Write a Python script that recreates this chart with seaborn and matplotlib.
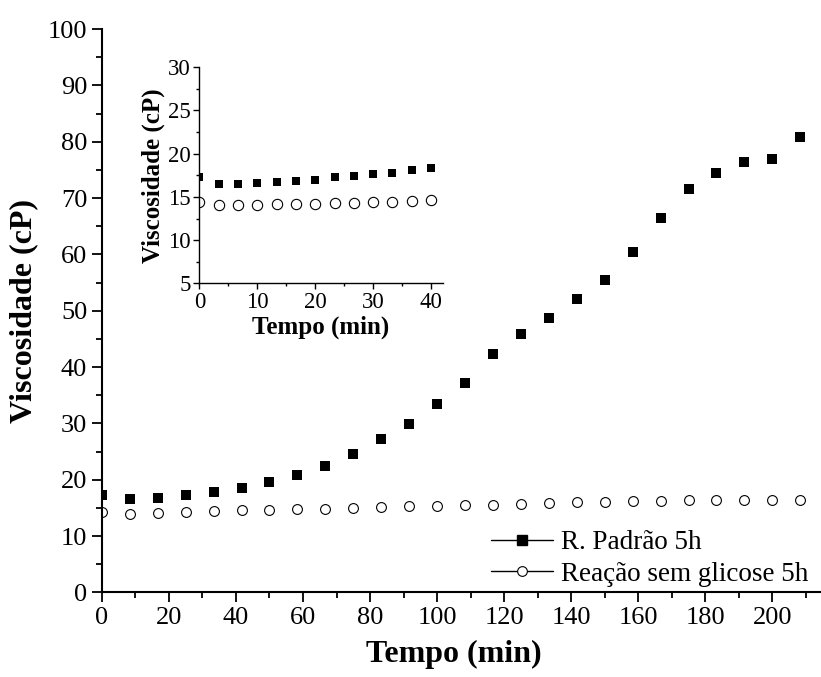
import matplotlib
matplotlib.use("Agg")
import matplotlib.pyplot as plt
import seaborn as sns
from matplotlib.lines import Line2D
from matplotlib.ticker import MultipleLocator

# Main series (time in min, viscosity in cP)
tempo = [0, 8.33, 16.67, 25, 33.33, 41.67, 50, 58.33, 66.67, 75, 83.33, 91.67, 100,
         108.33, 116.67, 125, 133.33, 141.67, 150, 158.33, 166.67, 175, 183.33,
         191.67, 200, 208.33]
padrao = [17.3, 16.5, 16.7, 17.3, 17.8, 18.6, 19.6, 20.9, 22.4, 24.6, 27.2, 29.9, 33.4,
          37.2, 42.4, 45.9, 48.7, 52.0, 55.5, 60.4, 66.5, 71.6, 74.4, 76.4, 76.9, 80.9]
sem_glicose = [14.3, 14.0, 14.1, 14.3, 14.4, 14.6, 14.7, 14.75, 14.85, 15.0, 15.15, 15.3,
               15.4, 15.5, 15.6, 15.7, 15.85, 16.0, 16.1, 16.3, 16.3, 16.4, 16.45,
               16.45, 16.45, 16.45]

# Inset series (first 40 min)
tempo_ins = [0, 3.33, 6.67, 10, 13.33, 16.67, 20, 23.33, 26.67, 30, 33.33, 36.67, 40]
padrao_ins = [17.3, 16.46, 16.46, 16.57, 16.69, 16.8, 16.96, 17.27, 17.46, 17.65, 17.8,
              18.08, 18.35]
sem_glicose_ins = [14.38, 14.03, 14.03, 14.03, 14.14, 14.14, 14.22, 14.26, 14.34, 14.38,
                   14.45, 14.53, 14.6]

labels = ["R. Padrão 5h", "Reação sem glicose 5h"]

sns.set_style("ticks")
plt.rcParams["font.family"] = ["Liberation Serif", "DejaVu Serif"]
plt.rcParams["axes.linewidth"] = 1.5
for key in ["text.color", "axes.labelcolor", "xtick.color", "ytick.color",
            "axes.edgecolor"]:
    plt.rcParams[key] = "black"

fig = plt.figure(figsize=(8.21, 6.77), dpi=100)
ax = fig.add_axes([0.124, 0.125, 0.876, 0.832])

sns.scatterplot(x=tempo, y=padrao, marker="s", s=48, color="black",
                edgecolor="black", linewidth=0, ax=ax)
sns.scatterplot(x=tempo, y=sem_glicose, marker="o", s=50, facecolor="white",
                edgecolor="black", linewidth=0.8, ax=ax)

ax.set_xlim(0, 214.5)
ax.set_ylim(0, 100)
ax.xaxis.set_major_locator(MultipleLocator(20))
ax.xaxis.set_minor_locator(MultipleLocator(10))
ax.yaxis.set_major_locator(MultipleLocator(10))
ax.yaxis.set_minor_locator(MultipleLocator(5))
ax.tick_params(which="major", direction="out", length=7, width=1.3, labelsize=19)
ax.tick_params(which="minor", direction="out", length=4, width=1.3)
sns.despine(ax=ax)
ax.set_xlabel("Tempo (min)", fontsize=23, fontweight="bold")
ax.set_ylabel("Viscosidade (cP)", fontsize=23, fontweight="bold")
ax.xaxis.set_label_coords(0.49, -0.085)
ax.yaxis.set_label_coords(-0.088, 0.5)

handles = [
    Line2D([], [], color="black", lw=1.0, marker="s", markersize=7,
           markerfacecolor="black", markeredgecolor="black"),
    Line2D([], [], color="black", lw=1.0, marker="o", markersize=7,
           markerfacecolor="white", markeredgecolor="black", markeredgewidth=0.8),
]
ax.legend(handles, labels, loc="lower right", bbox_to_anchor=(0.985, 0.133),
          bbox_transform=fig.transFigure, frameon=False, fontsize=19.5,
          handlelength=2.3, handletextpad=0.3, labelspacing=0.25,
          borderpad=0, borderaxespad=0)

# Inset
axi = fig.add_axes([0.2428, 0.5815, 0.2964, 0.3191])
sns.scatterplot(x=tempo_ins, y=padrao_ins, marker="s", s=32, color="black",
                edgecolor="black", linewidth=0, ax=axi)
sns.scatterplot(x=tempo_ins, y=sem_glicose_ins, marker="o", s=55, facecolor="white",
                edgecolor="black", linewidth=0.8, ax=axi)
axi.set_xlim(0, 42)
axi.set_ylim(5, 30)
axi.xaxis.set_major_locator(MultipleLocator(10))
axi.xaxis.set_minor_locator(MultipleLocator(5))
axi.yaxis.set_major_locator(MultipleLocator(5))
axi.yaxis.set_minor_locator(MultipleLocator(2.5))
axi.tick_params(which="major", direction="out", length=4, width=1.0, labelsize=16.5, pad=2)
axi.tick_params(which="minor", direction="out", length=2, width=1.0)
for sp in ["left", "bottom"]:
    axi.spines[sp].set_linewidth(1.0)
sns.despine(ax=axi)
axi.patch.set_alpha(0)
axi.set_xlabel("Tempo (min)", fontsize=18, fontweight="bold", labelpad=2)
axi.set_ylabel("Viscosidade (cP)", fontsize=18, fontweight="bold", labelpad=2)

fig.savefig("out.png", dpi=100)
